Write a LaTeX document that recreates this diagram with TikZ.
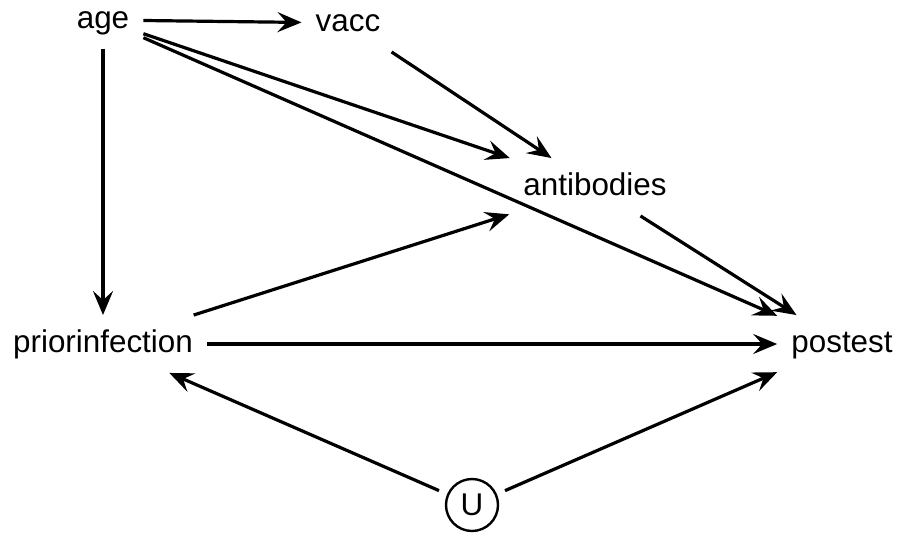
\documentclass[tikz,border=0pt]{standalone}
\usepackage{fontspec}
\setmainfont{Liberation Sans}
\usetikzlibrary{arrows.meta}
\tikzset{
  var/.style={inner sep=14pt, text height=23pt, text depth=6.5pt, font=\fontsize{31.4}{36}\selectfont},
  latent/.style={circle, draw, line width=2.4pt, minimum size=52pt, inner sep=0pt, outer sep=10pt, font=\fontsize{31.4}{36}\selectfont},
  edge/.style={line width=3.2pt, -{Stealth[length=24pt,width=20pt,inset=9pt]}}
}
\begin{document}
\begin{tikzpicture}[x=1pt,y=-1pt]
\useasboundingbox (0,0) rectangle (899,533);
\node[var] (age) at (103,20) {age};
\node[var] (vacc) at (348,23) {vacc};
\node[var] (antibodies) at (595,187) {antibodies};
\node[var] (priorinfection) at (103,344) {priorinfection};
\node[var] (postest) at (842,344) {postest};
\node[latent] (U) at (472,505) {U};
\draw[edge] (age) -- (vacc);
\draw[edge] (age) -- (priorinfection);
\draw[edge] (age) -- (antibodies);
\draw[edge] (age) -- (postest);
\draw[edge] (vacc) -- (antibodies);
\draw[edge] (antibodies) -- (postest);
\draw[edge] (priorinfection) -- (antibodies);
\draw[edge] (priorinfection) -- (postest);
\draw[edge] (U) -- (priorinfection);
\draw[edge] (U) -- (postest);
\end{tikzpicture}
\end{document}
